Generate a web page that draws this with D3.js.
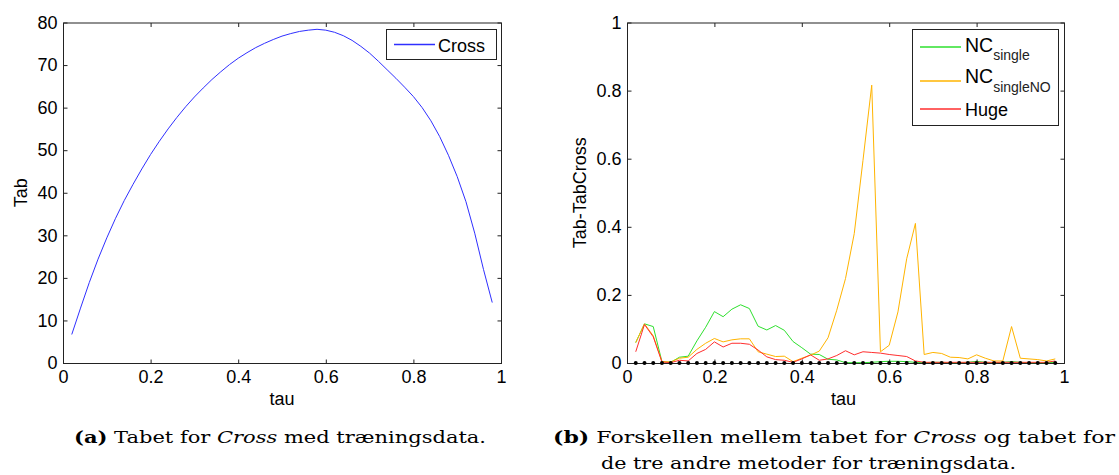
<!DOCTYPE html>
<html>
<head>
<meta charset="utf-8">
<script src="https://cdn.jsdelivr.net/npm/d3@7"></script>
<style>
  html, body { margin: 0; padding: 0; background: #ffffff; }
  svg { display: block; }
  .axis text { font-family: "Liberation Sans", Arial, sans-serif; font-size: 18px; fill: #000; }
  .axis line { stroke: #222; stroke-width: 1; }
  .axis path.domain { display: none; }
  .lab { font-family: "Liberation Sans", Arial, sans-serif; font-size: 18px; fill: #000; }
  .cap { font-family: "DejaVu Serif", "Liberation Serif", serif; font-size: 17px; fill: #000; }
</style>
</head>
<body>
<svg id="fig" width="1119" height="475"></svg>
<script>
// Kendall's tau grid used for both panels
const tau = [0.02, 0.04, 0.06, 0.08, 0.10, 0.12, 0.14, 0.16, 0.18, 0.20,
             0.22, 0.24, 0.26, 0.28, 0.30, 0.32, 0.34, 0.36, 0.38, 0.40,
             0.42, 0.44, 0.46, 0.48, 0.50, 0.52, 0.54, 0.56, 0.58, 0.60,
             0.62, 0.64, 0.66, 0.68, 0.70, 0.72, 0.74, 0.76, 0.78, 0.80,
             0.82, 0.84, 0.86, 0.88, 0.90, 0.92, 0.94, 0.96, 0.98];

// (a) loss for the Cross method on the training data
const crossTab = [6.7, 12.9, 18.9, 24.4, 29.4, 34.0, 38.2, 42.0, 45.6, 49.0,
                  52.1, 55.0, 57.7, 60.2, 62.5, 64.6, 66.6, 68.4, 70.1, 71.6,
                  72.9, 74.1, 75.1, 76.0, 76.8, 77.4, 77.9, 78.2, 78.4, 78.2,
                  77.7, 76.9, 75.8, 74.4, 72.8, 70.9, 68.9, 66.9, 64.8, 62.6,
                  60.0, 56.9, 53.2, 48.8, 43.8, 37.9, 30.5, 22.0, 14.2];

// (b) difference Tab - TabCross for the other methods
const ncSingle = [0.060, 0.115, 0.107, 0.004, 0.002, 0.017, 0.020, 0.065, 0.105, 0.151,
                  0.136, 0.158, 0.171, 0.160, 0.108, 0.097, 0.110, 0.096, 0.063, 0.045,
                  0.026, 0.025, 0.011, 0.009, 0.001, 0.001, 0.001, 0.002, 0.004, 0.005,
                  0.005, 0.004, 0.002, 0.001, 0.002, 0.002, 0.001, 0.001, 0.002, 0.005,
                  0.002, 0.001, 0.002, 0.004, 0.002, 0.001, 0.001, 0.001, 0.002];
const ncSingleNO = [0.060, 0.115, 0.080, 0.004, 0.003, 0.014, 0.017, 0.040, 0.058, 0.072,
                    0.062, 0.068, 0.071, 0.071, 0.033, 0.026, 0.019, 0.020, 0.004, 0.014,
                    0.023, 0.035, 0.074, 0.155, 0.248, 0.380, 0.595, 0.816, 0.033, 0.052,
                    0.150, 0.306, 0.410, 0.025, 0.031, 0.028, 0.017, 0.016, 0.012, 0.024,
                    0.014, 0.006, 0.006, 0.107, 0.014, 0.012, 0.010, 0.006, 0.012];
const huge = [0.033, 0.113, 0.077, 0.003, 0.001, 0.008, 0.006, 0.028, 0.040, 0.062,
              0.047, 0.058, 0.058, 0.055, 0.038, 0.018, 0.010, 0.008, 0.002, 0.012,
              0.024, 0.008, 0.012, 0.022, 0.036, 0.024, 0.033, 0.031, 0.029, 0.025,
              0.022, 0.019, 0.006, 0.002, 0.002, 0.002, 0.002, 0.002, 0.002, 0.002,
              0.002, 0.002, 0.002, 0.002, 0.002, 0.002, 0.002, 0.002, 0.006];
const crossRef = [0, 0, 0, 0, 0, 0, 0, 0, 0, 0,
                  0, 0, 0, 0, 0, 0, 0, 0, 0, 0,
                  0, 0, 0, 0, 0, 0, 0, 0, 0, 0,
                  0, 0, 0, 0, 0, 0, 0, 0, 0, 0,
                  0, 0, 0, 0, 0, 0, 0, 0, 0];

// tick values
const xTicks = [0, 0.2, 0.4, 0.6, 0.8, 1];
const yTicksA = [0, 10, 20, 30, 40, 50, 60, 70, 80];
const yTicksB = [0, 0.2, 0.4, 0.6, 0.8, 1];

const svg = d3.select("#fig");
svg.append("rect").attr("width", 1119).attr("height", 475).attr("fill", "#fff");

const TICK = 4;

function frame(box, x, y, yTicks, yFmt) {
  const g = svg.append("g");
  // axes with inward ticks on all four sides
  g.append("g").attr("class", "axis")
    .attr("transform", `translate(0,${box.bottom + 0.5})`)
    .call(d3.axisBottom(x).tickValues(xTicks).tickSizeInner(-TICK).tickSizeOuter(0)
      .tickPadding(7).tickFormat(d3.format("")));
  g.append("g").attr("class", "axis")
    .attr("transform", `translate(0,${box.top + 0.5})`)
    .call(d3.axisTop(x).tickValues(xTicks).tickSizeInner(-TICK).tickSizeOuter(0).tickFormat(""));
  g.append("g").attr("class", "axis")
    .attr("transform", `translate(${box.left + 0.5},0)`)
    .call(d3.axisLeft(y).tickValues(yTicks).tickSizeInner(-TICK).tickSizeOuter(0)
      .tickPadding(6).tickFormat(yFmt));
  g.append("g").attr("class", "axis")
    .attr("transform", `translate(${box.right + 0.5},0)`)
    .call(d3.axisRight(y).tickValues(yTicks).tickSizeInner(-TICK).tickSizeOuter(0).tickFormat(""));
  g.append("rect")
    .attr("x", box.left + 0.5).attr("y", box.top + 0.5)
    .attr("width", box.right - box.left).attr("height", box.bottom - box.top)
    .attr("fill", "none").attr("stroke", "#222").attr("stroke-width", 1);
  return g;
}

// ---------- panel (a) ----------
const boxA = { left: 63, right: 501, top: 22.5, bottom: 363 };
const xA = d3.scaleLinear().domain([0, 1]).range([boxA.left, boxA.right]);
const yA = d3.scaleLinear().domain([0, 80]).range([boxA.bottom, boxA.top]);
frame(boxA, xA, yA, yTicksA, d3.format(""));

svg.append("path")
  .datum(tau.map((t, i) => [t, crossTab[i]]))
  .attr("fill", "none").attr("stroke", "#2f2fff").attr("stroke-width", 1)
  .attr("d", d3.line().x(d => xA(d[0])).y(d => yA(d[1])));

svg.append("text").attr("class", "lab")
  .attr("x", (boxA.left + boxA.right) / 2).attr("y", 405)
  .attr("text-anchor", "middle").text("tau");
svg.append("text").attr("class", "lab")
  .attr("transform", `translate(27,${(boxA.top + boxA.bottom) / 2}) rotate(-90)`)
  .attr("text-anchor", "middle").text("Tab");

// legend (a)
const legA = svg.append("g");
legA.append("rect").attr("x", 386.5).attr("y", 29.5).attr("width", 110).attr("height", 30)
  .attr("fill", "#fff").attr("stroke", "#222");
legA.append("line").attr("x1", 394).attr("x2", 435).attr("y1", 44.5).attr("y2", 44.5)
  .attr("stroke", "#2f2fff").attr("stroke-width", 1.5);
legA.append("text").attr("class", "lab").attr("x", 438).attr("y", 52).text("Cross");

// ---------- panel (b) ----------
const boxB = { left: 627, right: 1064, top: 22.5, bottom: 363 };
const xB = d3.scaleLinear().domain([0, 1]).range([boxB.left, boxB.right]);
const yB = d3.scaleLinear().domain([0, 1]).range([boxB.bottom, boxB.top]);
frame(boxB, xB, yB, yTicksB, d3.format(""));

const lineB = d3.line().x(d => xB(d[0])).y(d => yB(d[1]));
const seriesB = [
  { name: "NC", sub: "single", values: ncSingle, color: "#2ee02e" },
  { name: "NC", sub: "singleNO", values: ncSingleNO, color: "#ffb400" },
  { name: "Huge", sub: null, values: huge, color: "#ff2e2e" }
];
seriesB.forEach(s => {
  svg.append("path")
    .datum(tau.map((t, i) => [t, s.values[i]]))
    .attr("fill", "none").attr("stroke", s.color).attr("stroke-width", 1)
    .attr("d", lineB);
});
// Cross against itself: point markers on zero
svg.append("g").selectAll("circle")
  .data(tau.map((t, i) => [t, crossRef[i]]))
  .join("circle")
  .attr("cx", d => xB(d[0])).attr("cy", d => yB(d[1]))
  .attr("r", 2).attr("fill", "#000");

svg.append("text").attr("class", "lab")
  .attr("x", (boxB.left + boxB.right) / 2 - 2).attr("y", 405)
  .attr("text-anchor", "middle").text("tau");
svg.append("text").attr("class", "lab")
  .attr("transform", `translate(586,${(boxB.top + boxB.bottom) / 2}) rotate(-90)`)
  .attr("text-anchor", "middle").text("Tab-TabCross");

// legend (b)
const legB = svg.append("g");
legB.append("rect").attr("x", 912.5).attr("y", 29.5).attr("width", 146).attr("height", 96)
  .attr("fill", "#fff").attr("stroke", "#222");
const legRows = [
  { lineY: 47, base: 52, subBase: 60 },
  { lineY: 81, base: 83, subBase: 92 },
  { lineY: 109, base: 116, subBase: 0 }
];
seriesB.forEach((s, i) => {
  const r = legRows[i];
  legB.append("line").attr("x1", 920).attr("x2", 961).attr("y1", r.lineY).attr("y2", r.lineY)
    .attr("stroke", s.color).attr("stroke-width", 1.6);
  const t = legB.append("text").attr("class", "lab").attr("x", 965).attr("y", r.base);
  if (s.sub) {
    t.append("tspan").style("font-size", "19.5px").text(s.name);
    t.append("tspan").attr("y", r.subBase).style("font-size", "14px").attr("fill", "#222").text(s.sub);
  } else {
    t.text(s.name);
  }
});

// ---------- captions ----------
function caption(x, y, width, parts) {
  const t = svg.append("text").attr("class", "cap").attr("x", x).attr("y", y)
    .attr("textLength", width).attr("lengthAdjust", "spacingAndGlyphs");
  parts.forEach(p => {
    const ts = t.append("tspan").text(p.text);
    if (p.bold) ts.style("font-weight", "bold");
    if (p.italic) ts.style("font-style", "italic");
  });
}
caption(74, 443, 412, [
  { text: "(a)", bold: true }, { text: " Tabet for " }, { text: "Cross", italic: true },
  { text: " med træningsdata." }
]);
caption(553, 443, 562, [
  { text: "(b)", bold: true }, { text: " Forskellen mellem tabet for " },
  { text: "Cross", italic: true }, { text: " og tabet for" }
]);
caption(601, 469, 415, [{ text: "de tre andre metoder for træningsdata." }]);
</script>
</body>
</html>
